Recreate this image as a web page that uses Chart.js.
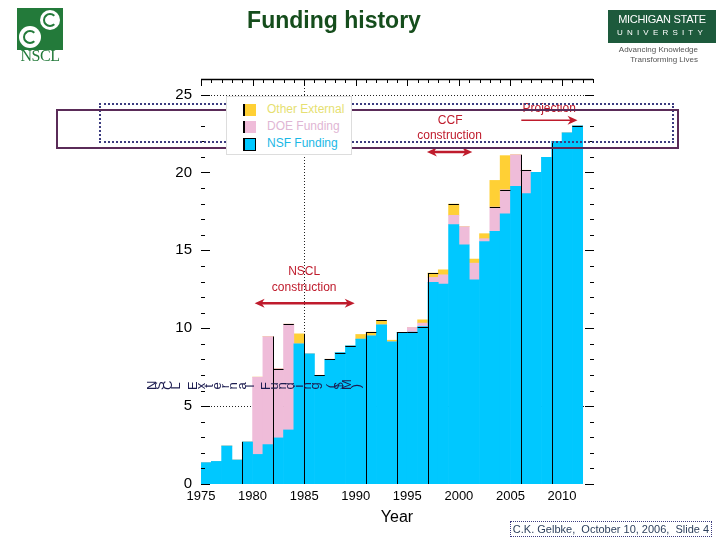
<!DOCTYPE html>
<html><head><meta charset="utf-8">
<script src="https://cdn.jsdelivr.net/npm/chart.js@4.4.0/dist/chart.umd.min.js"></script>
<style>
html,body{margin:0;padding:0;background:#fff;}
#wrap{position:relative;width:720px;height:540px;overflow:hidden;font-family:"Liberation Sans",Arial,sans-serif;}
canvas{position:absolute;left:0;top:0;}
.abs{position:absolute;}
#title{left:200px;width:268px;top:7px;text-align:center;font-weight:bold;font-size:23px;color:#154d1c;}
#nscl{left:17px;top:8px;width:46px;height:42px;background:#237a3a;}
.sw{position:absolute;border-radius:50%;background:#fff;}
.sw i{position:absolute;border-radius:50%;border:2px solid #237a3a;border-right-color:transparent;}
#nscltxt{left:14px;top:47px;width:52px;text-align:center;font-family:"Liberation Serif","DejaVu Serif",serif;font-size:16px;color:#237a3a;letter-spacing:-0.5px;}
#msu{left:608px;top:10px;width:108px;height:33px;background:#1d5a3c;color:#fff;text-align:center;}
#msu .l1{position:absolute;left:0;width:108px;top:3px;font-size:11px;letter-spacing:-0.3px;}
#msu .l2{position:absolute;left:0;width:108px;top:18px;font-size:8px;letter-spacing:4.2px;}
#adv{left:600px;top:45px;width:98px;text-align:right;font-size:8px;line-height:9.5px;color:#555;}
#legend{left:226px;top:96px;width:124px;height:57px;background:#fff;border:1px solid #ddd;}
.lr{position:absolute;left:16px;height:14px;font-size:12px;line-height:14px;}
.lr b{position:absolute;left:0;top:1px;width:11px;height:12px;border-left:2px solid #000;}
.lr span{position:absolute;left:24px;top:-1px;white-space:nowrap;}
#box1{left:99px;top:103px;width:571px;height:36px;border:2px dotted #3c3c80;}
#box2{left:56px;top:109px;width:619px;height:36px;border:2px solid #5a2b58;}
#ytitle{left:148px;top:376px;height:16px;white-space:nowrap;color:#1c1c50;}
#ytitle span{display:inline-block;width:8.15px;height:16px;text-align:center;font-size:13px;line-height:16px;transform:rotate(-90deg);}
#credit{left:510px;top:521px;width:200px;height:14px;border:1.5px dotted #3c3c80;font-size:11px;line-height:14px;color:#2c3f5c;text-align:center;white-space:nowrap;}
</style></head><body>
<div id="wrap">
<canvas id="c" width="720" height="540"></canvas>
<div id="title" class="abs">Funding history</div>
<div id="nscl" class="abs">
  <div class="sw" style="left:23px;top:2px;width:20px;height:20px;"><i style="left:3px;top:3px;width:10px;height:10px;"></i></div>
  <div class="sw" style="left:2px;top:18px;width:22px;height:22px;"><i style="left:4px;top:4px;width:10px;height:10px;"></i></div>
</div>
<div id="nscltxt" class="abs">NSCL</div>
<div id="msu" class="abs"><div class="l1">MICHIGAN STATE</div><div class="l2">UNIVERSITY</div></div>
<div id="adv" class="abs">Advancing Knowledge<br>Transforming Lives</div>
<div id="box1" class="abs"></div>
<div id="box2" class="abs"></div>
<div id="legend" class="abs"></div>
<div id="ytitle" class="abs"></div>
<div id="credit" class="abs">C.K. Gelbke,&nbsp; October 10, 2006,&nbsp; Slide 4</div>
</div>
<script>
// ---- data (M$ per fiscal year) ----
const years = [1975,1976,1977,1978,1979,1980,1981,1982,1983,1984,
               1985,1986,1987,1988,1989,1990,1991,1992,1993,1994,
               1995,1996,1997,1998,1999,2000,2001,2002,2003,2004,
               2005,2006,2007,2008,2009,2010,2011];
const nsfFunding = [1.37,1.45,2.44,1.54,2.7,1.9,2.53,2.96,3.47,9.0,
                    8.35,6.98,8.01,8.44,8.87,9.3,9.51,10.22,9.13,9.73,
                    9.75,10.11,12.94,12.83,16.65,15.36,13.11,15.57,16.22,17.35,
                    19.11,18.64,20.01,20.97,22.0,22.54,23.0];
const doeFunding = [0,0,0,0,0,4.96,6.94,4.45,6.79,0,
                    0,0,0,0,0,0,0,0,0,0,
                    0.30,0.22,0.32,0.6,0.6,1.16,1.07,0.18,1.56,1.54,
                    2.03,1.5,0,0,0,0,0];
const otherExternal = [0,0,0,0,0,0,0,0,0,0.64,
                       0,0,0,0,0,0.3,0.24,0.28,0.1,0,
                       0,0.21,0.28,0.32,0.72,0,0.26,0.32,1.71,2.19,
                       0,0,0,0,0,0,0];
// black outline marks found on some bar tops in the original
const outlineTops = [null,null,null,null,null,null,null,7.41,10.26,null,
                     null,6.98,8.01,8.44,8.87,null,9.75,10.5,null,9.73,
                     9.75,10.11,13.54,null,17.97,null,null,null,17.78,18.89,
                     null,20.14,null,null,null,null,23.0];
const outlineEdgeYears = [1979,1982,1985,1991,1994,1997,2006,2009];
const yTickLabels = [0,5,10,15,20,25];
const xTickLabels = [1975,1980,1985,1990,1995,2000,2005,2010];
const seriesNames = ['NSF Funding','DOE Funding','Other External'];
const seriesColors = ['#00c8ff','#efbcd9','#ffd035'];
const legendTextColors = ['#1ab8e6','#dfb6d4','#e6df72'];
const yTitle = 'NSCL External Funding ($M)';

// annotations (data coordinates)
const annotTexts = [
  {t:'NSCL', x:1985, y:13.62}, {t:'construction', x:1985, y:12.6},
  {t:'CCF', x:1999.15, y:23.3}, {t:'construction', x:1999.1, y:22.33},
  {t:'Projection', x:2008.75, y:24.08}
];
const annotArrows = [
  {x1:1980.2, x2:1989.9, y:11.61, both:true},
  {x1:1996.9, x2:2001.3, y:21.32, both:true},
  {x1:2006.05, x2:2011.5, y:23.35, both:false}
];

// ---- HTML legend & garbled axis title ----
const lg = document.getElementById('legend');
[2,1,0].forEach((si,k)=>{
  const r = document.createElement('div');
  r.className='lr'; r.style.top=(6+k*17)+'px';
  r.innerHTML='<b style="background:'+seriesColors[si]+(si===0?';border:1px solid #000;border-left:2px solid #000;width:10px;height:11px':'')+'"></b><span style="color:'+legendTextColors[si]+'">'+seriesNames[si]+'</span>';
  lg.appendChild(r);
});
const yt = document.getElementById('ytitle');
for (const ch of yTitle) { const s=document.createElement('span'); s.textContent = ch===' ' ? '\u00a0' : ch; yt.appendChild(s); }

// ---- chart ----
const mk = arr => arr.map((v,i)=>({x: years[i]+0.5, y: v}));
const decor = {
  id:'decor',
  beforeDatasetsDraw(chart){
    const {ctx, chartArea:a, scales:{x,y}} = chart;
    ctx.save();
    ctx.strokeStyle='#222'; ctx.lineWidth=1; ctx.setLineDash([1,2]);
    [5,25].forEach(v=>{const py=Math.round(y.getPixelForValue(v))+0.5; ctx.beginPath(); ctx.moveTo(a.left+10,py); ctx.lineTo(a.right-9,py); ctx.stroke();});
    [1985].forEach(v=>{const px=Math.round(x.getPixelForValue(v))+0.5; ctx.beginPath(); ctx.moveTo(px,a.top); ctx.lineTo(px,a.bottom); ctx.stroke();});
    ctx.restore();
  },
  afterDatasetsDraw(chart){
    const {ctx, chartArea:a, scales:{x,y}} = chart;
    const tot = years.map((_,i)=>nsfFunding[i]+doeFunding[i]+otherExternal[i]);
    ctx.save();
    ctx.strokeStyle='#000'; ctx.lineWidth=1;
    // outline marks
    outlineTops.forEach((v,i)=>{ if(v==null) return;
      const py=Math.round(y.getPixelForValue(v))+0.5;
      ctx.beginPath(); ctx.moveTo(x.getPixelForValue(years[i]),py); ctx.lineTo(x.getPixelForValue(years[i]+1),py); ctx.stroke(); });
    outlineEdgeYears.forEach(yr=>{ const i=years.indexOf(yr);
      const h=Math.max(tot[i], i>0?tot[i-1]:0);
      const px=Math.round(x.getPixelForValue(yr))+0.5;
      ctx.beginPath(); ctx.moveTo(px,y.getPixelForValue(0)); ctx.lineTo(px,y.getPixelForValue(h)); ctx.stroke(); });
    // top axis
    ctx.lineWidth=1.3;
    ctx.beginPath(); ctx.moveTo(a.left,a.top+0.5); ctx.lineTo(a.right,a.top+0.5); ctx.stroke();
    ctx.lineWidth=1;
    for(let yr=1975; yr<=2013; yr++){ const px=Math.round(x.getPixelForValue(yr))+0.5; const L= yr%5===0?7:4;
      ctx.beginPath(); ctx.moveTo(px,a.top); ctx.lineTo(px,a.top+L); ctx.stroke(); }
    // left / right ticks
    for(let v=0; v<=25; v++){ const py=Math.round(y.getPixelForValue(v))+0.5; const L=v%5===0?9:4;
      ctx.beginPath(); ctx.moveTo(a.left,py); ctx.lineTo(a.left+L,py); ctx.stroke();
      ctx.beginPath(); ctx.moveTo(a.right+1,py); ctx.lineTo(a.right+1-L,py); ctx.stroke(); }
    // annotations
    const red='#bf1b2c';
    ctx.fillStyle=red; ctx.strokeStyle=red; ctx.font='12px "Liberation Sans", Arial, sans-serif';
    ctx.textAlign='center'; ctx.textBaseline='middle';
    annotTexts.forEach(t=>ctx.fillText(t.t, x.getPixelForValue(t.x), y.getPixelForValue(t.y)));
    const head=(tx,ty,dir)=>{ ctx.beginPath(); ctx.moveTo(tx,ty); ctx.lineTo(tx-dir*10,ty-4.5); ctx.lineTo(tx-dir*7,ty); ctx.lineTo(tx-dir*10,ty+4.5); ctx.closePath(); ctx.fill(); };
    annotArrows.forEach(r=>{ const x1=x.getPixelForValue(r.x1), x2=x.getPixelForValue(r.x2), py=y.getPixelForValue(r.y);
      ctx.lineWidth= r.both?2.5:1.5;
      ctx.beginPath(); ctx.moveTo(r.both?x1+6:x1,py); ctx.lineTo(x2-6,py); ctx.stroke();
      head(x2,py,1); if(r.both) head(x1,py,-1); });
    ctx.restore();
  }
};

Chart.defaults.font.family = '"Liberation Sans", Arial, sans-serif';
new Chart(document.getElementById('c'), {
  type:'bar',
  data:{ datasets:[
    {label:seriesNames[0], data:mk(nsfFunding), backgroundColor:seriesColors[0]},
    {label:seriesNames[1], data:mk(doeFunding), backgroundColor:seriesColors[1]},
    {label:seriesNames[2], data:mk(otherExternal), backgroundColor:seriesColors[2]}
  ]},
  options:{
    responsive:false, animation:false, devicePixelRatio:1,
    barPercentage:1, categoryPercentage:1,
    layout:{padding:{left:0,right:127,top:79,bottom:0}},
    plugins:{legend:{display:false}, tooltip:{enabled:false}},
    scales:{
      x:{type:'linear', min:1975, max:2013, offset:false, stacked:true,
         grid:{display:false, drawTicks:false}, border:{display:false},
         ticks:{stepSize:5, includeBounds:false, autoSkip:false, maxRotation:0, color:'#000', font:{size:13}, padding:5,
                callback:v=> xTickLabels.includes(v) ? String(v) : ''},
         title:{display:true, text:'Year', color:'#000', font:{size:16}, padding:{top:0,bottom:12.4}},
         afterFit:s=>{s.height=56;}},
      y:{min:0, max:26, stacked:true,
         grid:{display:false, drawTicks:false}, border:{display:false},
         ticks:{stepSize:5, includeBounds:false, color:'#000', font:{size:15}, padding:9,
                callback:v=> yTickLabels.includes(v) ? String(v) : ''},
         afterFit:s=>{s.width=201;}}
    }
  },
  plugins:[decor]
});
</script>
</body></html>
